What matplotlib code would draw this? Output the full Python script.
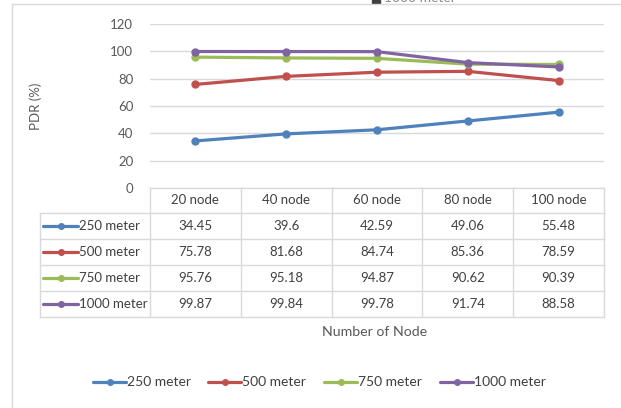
import matplotlib.pyplot as plt
from matplotlib.lines import Line2D
from matplotlib.patches import Rectangle

nodes = ["20 node", "40 node", "60 node", "80 node", "100 node"]
series = ["250 meter", "500 meter", "750 meter", "1000 meter"]
pdr_250 = [34.45, 39.6, 42.59, 49.06, 55.48]
pdr_500 = [75.78, 81.68, 84.74, 85.36, 78.59]
pdr_750 = [95.76, 95.18, 94.87, 90.62, 90.39]
pdr_1000 = [99.87, 99.84, 99.78, 91.74, 88.58]
values = [pdr_250, pdr_500, pdr_750, pdr_1000]
colors = ["#4F81BD", "#C0504D", "#9BBB59", "#8064A2"]

W, H = 621, 408
plt.rcParams['font.family'] = ['Lato', 'DejaVu Sans']
txt = "#404040"
grid = "#D9D9D9"

fig = plt.figure(figsize=(W / 100, H / 100), dpi=100)


def fx(x):
    return x / W


def fy(y):
    return 1 - y / H


def hline(x0, x1, y, c=grid, lw=1):
    fig.add_artist(Line2D([fx(x0), fx(x1)], [fy(y), fy(y)], color=c, lw=lw))


def vline(x, y0, y1, c=grid, lw=1):
    fig.add_artist(Line2D([fx(x), fx(x)], [fy(y0), fy(y1)], color=c, lw=lw))


# chart frame
hline(12, W, 4)
vline(12, 4, H)

# plot area
left, right, top, bottom = 150, 604, 24, 188
ax = fig.add_axes([fx(left), fy(bottom), fx(right - left), fy(top) - fy(bottom)])
ax.set_xlim(-0.5, len(nodes) - 0.5)
ax.set_ylim(0, 120)
ax.set_yticks(range(0, 121, 20))
ax.yaxis.grid(True, color=grid, lw=1)
ax.set_axisbelow(True)
for s in ax.spines.values():
    s.set_visible(False)
ax.tick_params(axis='y', length=0, pad=12, labelsize=9.5, labelcolor="#595959")
ax.set_xticks([])
ax.patch.set_alpha(0)
for vals, c in zip(values, colors):
    ax.plot(range(len(nodes)), vals, color=c, lw=2.3, marker='o', ms=5,
            solid_capstyle='round')
ax.set_ylabel("PDR (%)", fontsize=9.5, color="#595959", labelpad=49)

# data table
col_w = (right - left) / len(nodes)
row_tops = [188, 213, 239, 265, 291, 317]
tab_left = 40
fs = 9.5
hline(left, right, row_tops[0])
for y in row_tops[1:]:
    hline(tab_left, right, y)
for i in range(len(nodes) + 1):
    vline(left + i * col_w, row_tops[0], row_tops[-1])
vline(tab_left, row_tops[1], row_tops[-1])
for i, name in enumerate(nodes):
    cx = left + (i + 0.5) * col_w
    fig.text(fx(cx), fy((row_tops[0] + row_tops[1]) / 2), name,
             ha='center', va='center', fontsize=fs, color=txt)
for r, (name, vals, c) in enumerate(zip(series, values, colors)):
    cy = (row_tops[r + 1] + row_tops[r + 2]) / 2
    fig.add_artist(Line2D([fx(43), fx(78)], [fy(cy), fy(cy)], color=c, lw=2.3,
                          solid_capstyle='round'))
    fig.add_artist(Line2D([fx(60.5)], [fy(cy)], color=c, marker='o', ms=4))
    fig.text(fx(79), fy(cy), name, ha='left', va='center', fontsize=fs, color=txt)
    for i, v in enumerate(vals):
        cx = left + (i + 0.5) * col_w
        fig.text(fx(cx), fy(cy), f"{v:g}", ha='center', va='center',
                 fontsize=fs, color=txt)

fig.text(fx(375), fy(332), "Number of Node", ha='center', va='center',
         fontsize=10.2, color="#595959")

# legend
leg_x = [93, 208, 324, 440]
leg_y = 382
for x0, name, c in zip(leg_x, series, colors):
    fig.add_artist(Line2D([fx(x0), fx(x0 + 33)], [fy(leg_y), fy(leg_y)], color=c,
                          lw=2.3, solid_capstyle='round'))
    fig.add_artist(Line2D([fx(x0 + 16.5)], [fy(leg_y)], color=c, marker='o', ms=4))
    fig.text(fx(x0 + 34), fy(leg_y), name, ha='left', va='center',
             fontsize=10, color=txt)

# clipped legend entry above the frame
fig.add_artist(Rectangle((fx(372), fy(3)), fx(8), fy(0) - fy(3), color="#404040"))
fig.text(fx(384), fy(1.5), "1000 meter", ha='left', va='baseline', fontsize=10,
         color="#8a8a8a")

fig.savefig("out.png", dpi=100)
